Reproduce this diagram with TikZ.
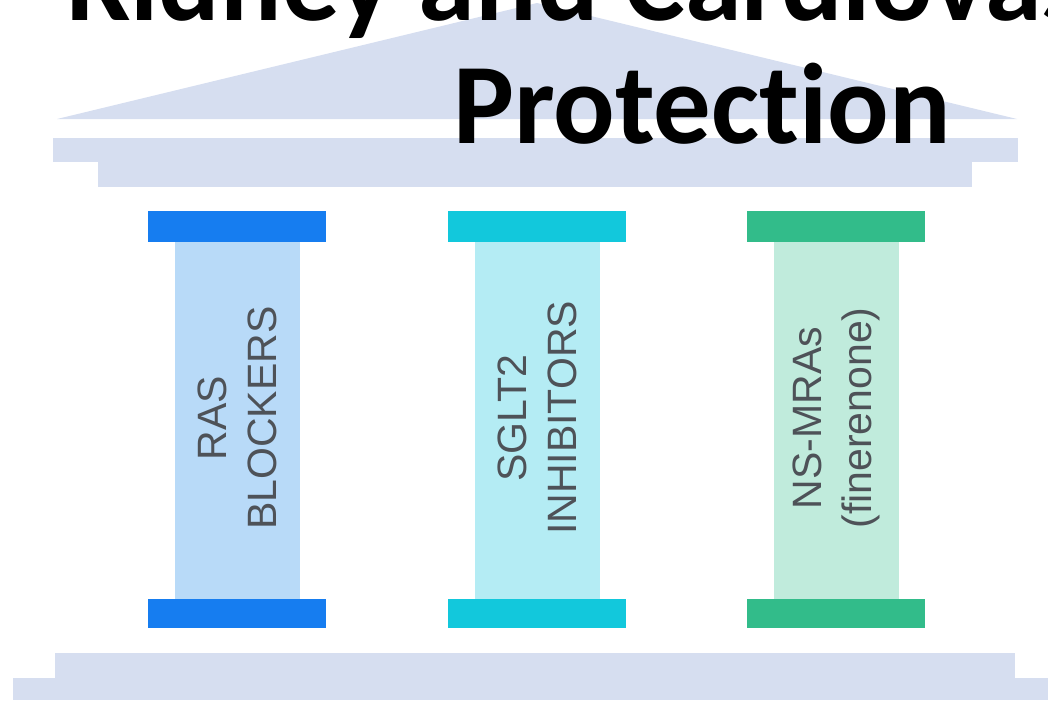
\documentclass[tikz,border=0pt]{standalone}
\usepackage{fontspec}
\newfontfamily\titlefont[Ligatures=NoCommon]{Carlito}
\newfontfamily\pillarfont{Liberation Sans}
\usetikzlibrary{positioning}
\definecolor{stonegrey}{RGB}{214,222,240}
\definecolor{rasblue}{RGB}{22,125,240}
\definecolor{rasshaft}{RGB}{184,218,248}
\definecolor{sgltcyan}{RGB}{18,200,220}
\definecolor{sgltshaft}{RGB}{180,236,244}
\definecolor{mragreen}{RGB}{50,188,138}
\definecolor{mrashaft}{RGB}{192,235,220}
\definecolor{labelgrey}{RGB}{78,82,88}

\begin{document}
\begin{tikzpicture}[x=0.75pt, y=-0.75pt,
    stone/.style={fill=stonegrey},
    pillarlabel/.style={font=\pillarfont\fontsize{30.75}{37.5}\selectfont, text=labelgrey, align=center, rotate=90, inner sep=0pt},
    titletext/.style={font=\titlefont\bfseries\fontsize{86}{98}\selectfont, anchor=base, inner sep=0pt}]
        \useasboundingbox (0,0) rectangle (1048,700);
        \clip (0,0) rectangle (1048,700);

        % Roof
        \fill[stone] (57,119) -- (537,3) -- (1017,119) -- cycle;

        % Entablature
        \fill[stone] (53,138) rectangle (1018,162);
        \fill[stone] (98,162) rectangle (972,187);

        % Title
        \node[titletext] (title1) at (695,20) {Kidney and Cardiovascular};
        \node[titletext] (title2) at (702,143) {Protection};

        % Pillars
        \foreach \cx/\capc/\shaftc/\lbl [count=\n] in {237/rasblue/rasshaft/{RAS\\BLOCKERS},
            537/sgltcyan/sgltshaft/{SGLT2\\INHIBITORS},
            836/mragreen/mrashaft/{NS-MRAs\\(finerenone)}}{
          \fill[\shaftc] (\cx-62.5,242) rectangle (\cx+62.5,599);
          \fill[\capc] (\cx-89,211) rectangle (\cx+89,242);
          \fill[\capc] (\cx-89,599) rectangle (\cx+89,628);
          \node[pillarlabel] (label\n) at (\cx,418) {\lbl};
        }

        % Base steps
        \fill[stone] (55,653) rectangle (1015,678);
        \fill[stone] (13,678) rectangle (1048,700);
      \end{tikzpicture}
\end{document}
